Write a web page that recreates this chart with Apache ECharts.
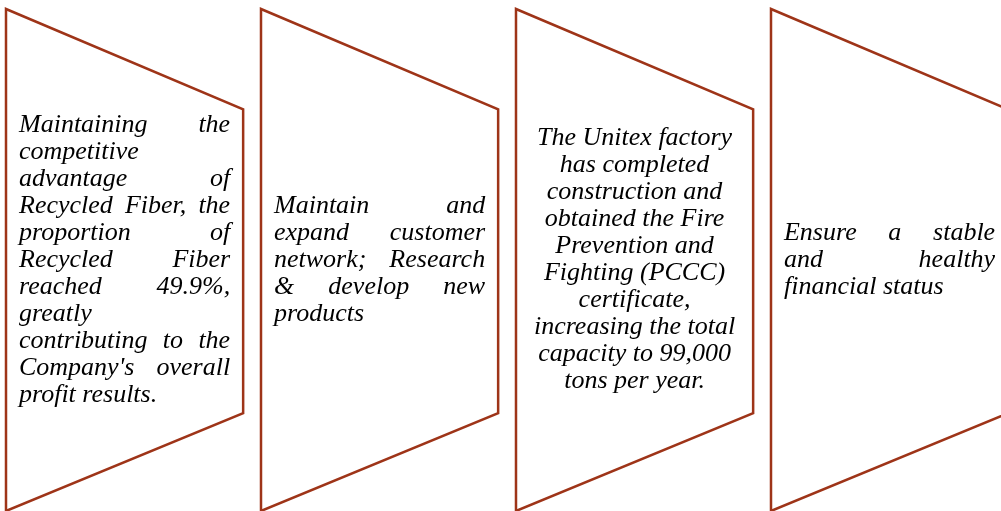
<!DOCTYPE html>
<html>
<head>
<meta charset="utf-8">
<style>
  html, body { margin: 0; padding: 0; background: #fff; }
  #chart { width: 1001px; height: 511px; }
</style>
<script src="https://cdn.jsdelivr.net/npm/echarts@6/dist/echarts.min.js"></script>
</head>
<body>
<div id="chart"></div>
<script>
// one entry per panel, text lines as broken in the picture
var panels = [0, 1, 2, 3];

var lines1 = ['Maintaining the', 'competitive', 'advantage of', 'Recycled Fiber, the',
  'proportion of', 'Recycled Fiber', 'reached 49.9%,', 'greatly',
  'contributing to the', "Company's overall", 'profit results.'];
var lines2 = ['Maintain and', 'expand customer', 'network; Research', '& develop new', 'products'];
var lines3 = ['The Unitex factory', 'has completed', 'construction and', 'obtained the Fire',
  'Prevention and', 'Fighting (PCCC)', 'certificate,', 'increasing the total',
  'capacity to 99,000', 'tons per year.'];
var lines4 = ['Ensure a stable', 'and healthy', 'financial status'];

var panelLines = [lines1, lines2, lines3, lines4];
var panelAlign = ['justify', 'justify', 'center', 'justify'];

var FONT_SIZE = 26;
var FONT_FAMILY = '"Liberation Serif", "Times New Roman", serif';
var LINE_H = 27;
var PAD = 13;
var EDGE = '#9e3418';

var measureCtx = document.createElement('canvas').getContext('2d');
measureCtx.font = 'italic normal ' + FONT_SIZE + 'px ' + FONT_FAMILY;
function tw(s) { return measureCtx.measureText(s).width; }

function textEl(str, x, y, align) {
  return {
    type: 'text',
    style: {
      text: str, x: x, y: y,
      fill: '#000',
      fontSize: FONT_SIZE, fontFamily: FONT_FAMILY, fontStyle: 'italic',
      align: align, verticalAlign: 'middle'
    }
  };
}

function renderPanel(params, api) {
  var idx = api.value(0);
  var band = api.size([1, 0])[0];
  var top = api.coord([idx, 0]);
  var bot = api.coord([idx, 1]);
  var x0 = top[0] - band / 2;
  var w = band * 0.93;
  var H = bot[1] - top[1];
  var pts = [
    [x0, top[1]],
    [x0 + w, top[1] + H * 0.2],
    [x0 + w, top[1] + H * 0.805],
    [x0, bot[1]]
  ];
  var children = [{
    type: 'polygon',
    shape: { points: pts },
    style: { fill: '#fff', stroke: EDGE, lineWidth: 2.5 }
  }];

  var lines = panelLines[idx];
  var align = panelAlign[idx];
  var left = x0 + PAD;
  var width = w - 2 * PAD;
  var midY = top[1] + H * 0.5;
  var n = lines.length;
  lines.forEach(function (ln, i) {
    var y = midY + (i - (n - 1) / 2) * LINE_H;
    if (align === 'center') {
      children.push(textEl(ln, left + width / 2, y, 'center'));
      return;
    }
    var words = ln.split(' ');
    var last = i === n - 1;
    if (last || words.length < 2) {
      children.push(textEl(ln, left, y, 'left'));
      return;
    }
    var sum = 0;
    words.forEach(function (wd) { sum += tw(wd); });
    var gap = (width - sum) / (words.length - 1);
    var x = left;
    words.forEach(function (wd) {
      children.push(textEl(wd, x, y, 'left'));
      x += tw(wd) + gap;
    });
  });

  return { type: 'group', children: children };
}

var chart = echarts.init(document.getElementById('chart'));
chart.setOption({
  animation: false,
  backgroundColor: '#fff',
  grid: { left: 6, top: 9, right: 0, bottom: 0 },
  // 995px of grid, 255px per panel slot
  xAxis: { type: 'value', min: -0.5, max: 3.402, show: false },
  yAxis: { type: 'value', min: 0, max: 1, inverse: true, show: false },
  series: [{
    type: 'custom',
    renderItem: renderPanel,
    encode: { x: 0 },
    clip: false,
    data: panels.map(function (p) { return [p]; })
  }]
});
</script>
</body>
</html>
